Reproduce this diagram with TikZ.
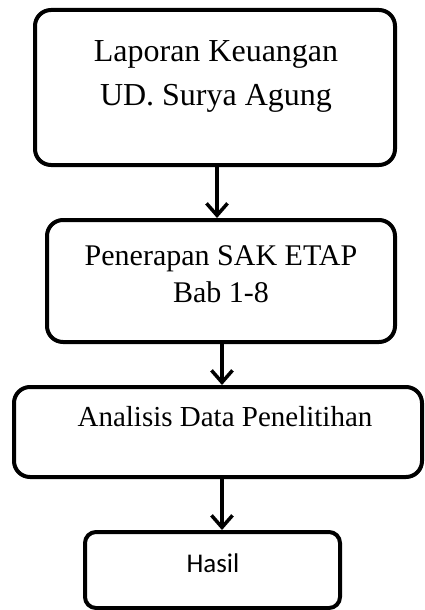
\documentclass[tikz,border=0pt]{standalone}
\usepackage{fontspec}
\setmainfont{Liberation Serif}
\newfontfamily\hasilfont{Carlito}
\usetikzlibrary{arrows.meta,positioning,calc}
\tikzstyle{stepbox} = [rectangle, draw=black, line width=4pt, rounded corners=16pt, fill=white]
\tikzstyle{arrow} = [line width=3.5pt,-{Straight Barb[length=12pt,width=21pt,line width=3.5pt]},color=black]
\tikzstyle{steptext} = [align=center, inner sep=0pt]

\begin{document}
\begin{tikzpicture}[x=1pt, y=-1pt]
    \useasboundingbox (0,0) rectangle (424,610);
    \node[stepbox, minimum width=360pt, minimum height=155pt] (laporan) at (215,87.5) {};
    \node[steptext, font=\fontsize{32}{44}\selectfont] (laporantext) at (216,76) {Laporan Keuangan\\UD. Surya Agung};

    \node[stepbox, minimum width=348pt, minimum height=122pt] (penerapan) at (221,281) {};
    \node[steptext, font=\fontsize{30}{37}\selectfont] (penerapantext) at (221,274) {Penerapan SAK ETAP\\Bab 1-8};

    \node[stepbox, minimum width=408pt, minimum height=90pt] (analisis) at (218,432) {};
    \node[steptext, font=\fontsize{29}{35}\selectfont] (analisistext) at (225,417) {Analisis Data Penelitihan};

    \node[stepbox, rounded corners=11pt, minimum width=255pt, minimum height=76pt] (hasil) at (212.5,570) {};
    \node[inner sep=0pt, font=\hasilfont\fontsize{27}{32}\selectfont] (hasiltext) at (213,563) {Hasil};

    \draw[arrow] ([xshift=2pt]laporan.south) -- ([xshift=2pt]laporan.south |- penerapan.north);
    \draw[arrow] ([xshift=1pt]penerapan.south) -- ([xshift=1pt]penerapan.south |- analisis.north);
    \draw[arrow] ([xshift=4pt]analisis.south) -- ([xshift=4pt]analisis.south |- hasil.north);
\end{tikzpicture}
\end{document}
